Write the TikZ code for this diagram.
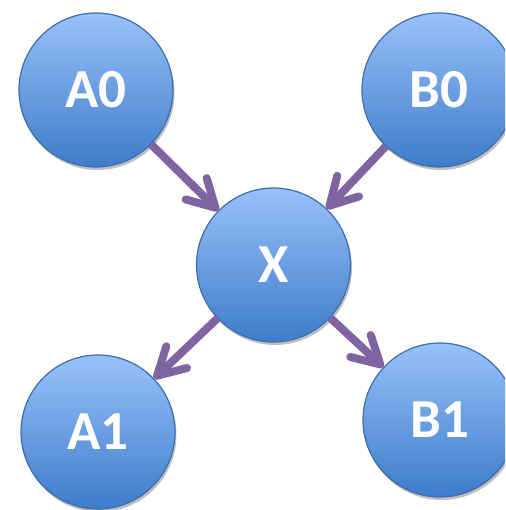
\documentclass[tikz,border=0pt]{standalone}
\usepackage{fontspec}
\setmainfont{Carlito}
\usetikzlibrary{arrows.meta,shadows}
\definecolor{balltop}{RGB}{152,193,250}
\definecolor{ballbot}{RGB}{62,124,202}
\definecolor{ballrim}{RGB}{60,110,172}
\definecolor{linkcol}{RGB}{128,100,162}
\begin{document}
\begin{tikzpicture}[x=1pt,y=-1pt,
  ball/.style={circle,minimum size=154pt,inner sep=0pt,draw=ballrim,line width=1.2pt,
    top color=balltop,bottom color=ballbot,text=white,
    font=\fontsize{55}{60}\selectfont\bfseries,
    drop shadow={shadow xshift=1.5pt,shadow yshift=-3pt,opacity=0.25,fill=black}},
  link/.style={draw=linkcol,line width=8pt,
    -{Straight Barb[length=27pt,width=30pt,line cap=round,line join=round]}}]
\useasboundingbox (0,0) rectangle (505,510);
\clip (0,0) rectangle (505,510);
\node[ball] (a0) at (96,90) {A0};
\node[ball] (b0) at (439,90) {B0};
\node[ball] (x) at (273.5,265) {X};
\node[ball] (a1) at (98,432) {A1};
\node[ball] (b1) at (440,420) {B1};
\draw[link] (a0) -- (x);
\draw[link] (b0) -- (x);
\draw[link] (x) -- (a1);
\draw[link] (x) -- (b1);
\end{tikzpicture}
\end{document}
